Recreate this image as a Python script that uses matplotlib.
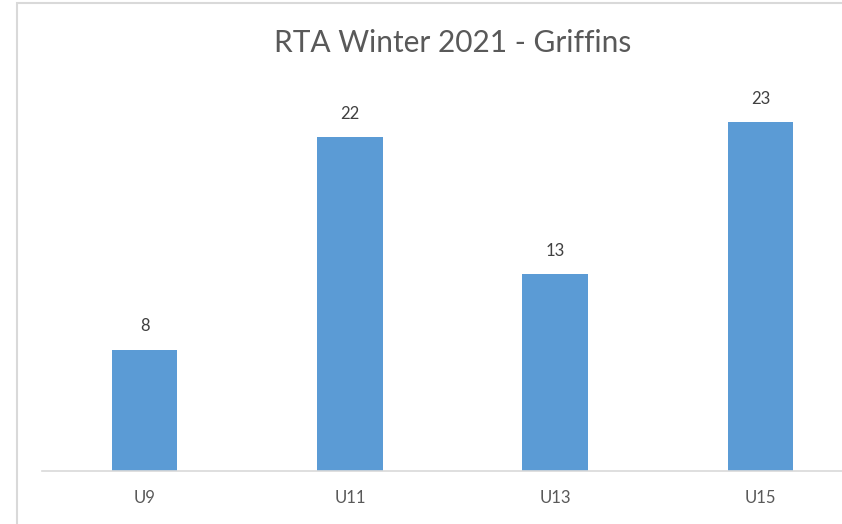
import matplotlib
matplotlib.use("Agg")
from matplotlib import pyplot as plt
from matplotlib.patches import Rectangle

categories = ["U9", "U11", "U13", "U15"]
values = [8, 22, 13, 23]

W, H = 842, 524
plt.rcParams['font.family'] = ['Lato', 'DejaVu Sans']

fig = plt.figure(figsize=(W / 100, H / 100), dpi=100)

# chart border (light grey, cropped at right and bottom)
fig.patches.append(Rectangle((16.5 / W, -0.1), 2, 1.1 - 2.5 / H, transform=fig.transFigure,
                             fill=False, edgecolor="#D9D9D9", linewidth=1.5))

ax = fig.add_axes([42 / W, 1 - 471 / H, 821 / W, 379.25 / H])
x = range(len(categories))
bars = ax.bar(x, values, width=0.32, color="#5B9BD5", zorder=2)
ax.set_xlim(-0.5, 3.5)
ax.set_ylim(0, 25)

for s in ["top", "right", "left"]:
    ax.spines[s].set_visible(False)
ax.spines["bottom"].set_color("#D9D9D9")
ax.spines["bottom"].set_linewidth(1.2)
ax.set_yticks([])
ax.set_xticks(list(x))
ax.set_xticklabels(categories, fontsize=12, color="#595959")
ax.tick_params(axis="x", length=0, pad=14)

for b, v in zip(bars, values):
    ax.annotate(str(v), (b.get_x() + b.get_width() / 2, v), xytext=(0, 11),
                textcoords="offset points", ha="center", va="bottom",
                fontsize=12, color="#404040")

fig.text(453 / W, 1 - 43 / H, "RTA Winter 2021 - Griffins", ha="center", va="center",
         fontsize=21.5, color="#595959")

fig.savefig("out.png", dpi=100)
